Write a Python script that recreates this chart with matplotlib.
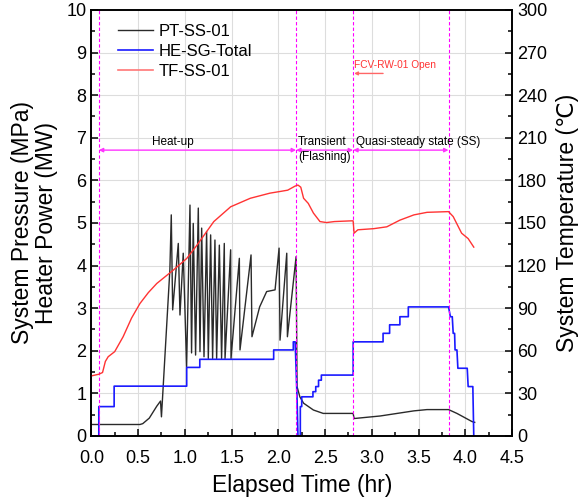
import matplotlib
matplotlib.use('Agg')
import matplotlib.pyplot as plt
from matplotlib.ticker import MultipleLocator

plt.rcParams['font.family'] = ['Liberation Sans', 'DejaVu Sans']

# PT-SS-01 system pressure (MPa)
pt_t = [0.0, 0.52, 0.55, 0.62, 0.70, 0.74, 0.75, 0.84, 0.855, 0.87, 0.93, 0.948, 0.983, 1.019,
        1.055, 1.072, 1.09, 1.115, 1.144, 1.162, 1.18, 1.205, 1.233, 1.251, 1.276, 1.297,
        1.322, 1.34, 1.369, 1.393, 1.422, 1.43, 1.49, 1.494, 1.583, 1.59, 1.708, 1.718,
        1.80, 1.875, 1.965, 2.008, 2.018, 2.09, 2.097, 2.19, 2.20, 2.23, 2.27, 2.375, 2.48,
        2.80, 2.81, 3.09, 3.45, 3.59, 3.82, 3.91, 4.07, 4.10]
pt_v = [0.27, 0.27, 0.29, 0.42, 0.70, 0.82, 0.45, 3.90, 5.19, 2.96, 4.52, 2.84, 4.29, 1.63,
        5.42, 1.95, 4.99, 1.90, 5.35, 1.98, 4.88, 1.86, 4.80, 1.82, 4.72, 1.82,
        4.60, 1.82, 4.48, 1.82, 4.52, 1.82, 4.37, 1.82, 4.17, 2.02, 4.25, 2.33,
        3.03, 3.39, 3.43, 4.41, 2.25, 4.29, 2.33, 4.21, 1.16, 0.92, 0.77, 0.61, 0.53,
        0.53, 0.41, 0.47, 0.59, 0.62, 0.62, 0.53, 0.34, 0.32]

# HE-SG-Total heater power (MW)
he_t = [0.0, 0.08, 0.08, 0.244, 0.244, 1.02, 1.02, 1.16, 1.16, 1.95, 1.95, 2.16, 2.16,
        2.18, 2.20, 2.21, 2.235, 2.235, 2.25, 2.25, 2.37, 2.37, 2.40, 2.40, 2.43, 2.43,
        2.46, 2.46, 2.80, 2.80, 3.12, 3.12, 3.19, 3.19, 3.30, 3.30, 3.39, 3.39, 3.82,
        3.84, 3.86, 3.87, 3.885, 3.89, 3.91, 3.92, 4.02, 4.03, 4.08, 4.09]
he_v = [0.0, 0.0, 0.69, 0.69, 1.17, 1.17, 1.61, 1.61, 1.80, 1.80, 2.02, 2.02, 2.21,
        2.21, 0.90, 0.0, 0.0, 0.69, 0.69, 0.92, 0.92, 1.04, 1.04, 1.16, 1.16, 1.31,
        1.31, 1.43, 1.43, 2.21, 2.21, 2.41, 2.41, 2.61, 2.61, 2.80, 2.80, 3.03, 3.03,
        2.80, 2.80, 2.41, 2.41, 2.02, 2.02, 1.59, 1.59, 1.16, 1.16, 0.0]

# TF-SS-01 system temperature (C)
tf_t = [0.0, 0.08, 0.12, 0.15, 0.18, 0.25, 0.34, 0.43, 0.52, 0.61, 0.70, 0.88, 1.02, 1.13,
        1.31, 1.49, 1.70, 1.91, 2.02, 2.10, 2.18, 2.21, 2.24, 2.27, 2.32, 2.375, 2.445,
        2.515, 2.60, 2.78, 2.80, 2.81, 2.85, 3.02, 3.16, 3.30, 3.45, 3.59, 3.82, 3.87,
        3.96, 4.03, 4.09]
tf_v = [42.3, 43.5, 44.7, 52.5, 55.8, 59.4, 69.9, 83.0, 93.3, 101.0, 107.4, 117.0, 125.0,
        134.4, 151.0, 161.4, 167.4, 171.0, 172.2, 173.1, 176.0, 176.7, 175.2, 167.4, 163.8,
        157.0, 151.0, 150.3, 151.0, 151.5, 151.5, 142.8, 145.2, 146.0, 147.3, 152.0, 155.7,
        157.5, 158.0, 154.5, 142.8, 139.0, 133.0]

phase_lines = [0.08, 2.19, 2.80, 3.82]

fig = plt.figure(figsize=(5.78, 4.98), dpi=100)
ax = fig.add_axes([0.158, 0.1245, 0.728, 0.8555])
ax2 = ax.twinx()

ax.plot(pt_t, pt_v, color='#2a2a2a', lw=1.0, label='PT-SS-01')
ax.plot(he_t, he_v, color='#1a1aff', lw=1.2, label='HE-SG-Total')
ax2.plot(tf_t, tf_v, color='#ff3333', lw=1.0)
ax.plot([], [], color='#ff7777', lw=1.2, label='TF-SS-01')

for x in phase_lines:
    ax.axvline(x, color='#ff00ff', lw=0.8, ls=(0, (3, 2)))

arr_y = 6.71
for a, b in zip(phase_lines[:-1], phase_lines[1:]):
    ax.annotate('', xy=(a, arr_y), xytext=(b, arr_y),
                arrowprops=dict(arrowstyle='<|-|>', color='#ff33ff', lw=1.0,
                                mutation_scale=6, shrinkA=0, shrinkB=0))
ax.text(0.87, 6.89, 'Heat-up', fontsize=8.5, ha='center', va='center')
ax.text(2.21, 6.89, 'Transient', fontsize=8.5, ha='left', va='center')
ax.text(2.21, 6.56, '(Flashing)', fontsize=8.5, ha='left', va='center')
ax.text(2.83, 6.89, 'Quasi-steady state (SS)', fontsize=8.5, ha='left', va='center')

ax.text(2.81, 8.71, 'FCV-RW-01 Open', fontsize=7.3, color='#ff3333', ha='left', va='center')
ax.annotate('', xy=(2.81, 8.51), xytext=(3.12, 8.51),
            arrowprops=dict(arrowstyle='-|>', color='#ff6666', lw=1.0,
                            mutation_scale=5, shrinkA=0, shrinkB=0))

ax.set_xlim(0, 4.5)
ax.set_ylim(0, 10)
ax2.set_ylim(0, 300)
ax.xaxis.set_major_locator(MultipleLocator(0.5))
ax.xaxis.set_minor_locator(MultipleLocator(0.25))
ax.yaxis.set_major_locator(MultipleLocator(1))
ax.yaxis.set_minor_locator(MultipleLocator(0.5))
ax2.yaxis.set_major_locator(MultipleLocator(30))
ax2.yaxis.set_minor_locator(MultipleLocator(15))
ax.xaxis.set_major_formatter(plt.FormatStrFormatter('%.1f'))

ax.grid(True, color='#dddddd', lw=0.8)
ax.set_axisbelow(True)
for a in (ax, ax2):
    a.tick_params(which='both', direction='in', labelsize=13, width=1.1)
    a.tick_params(which='major', length=5)
    a.tick_params(which='minor', length=3)
    for s in a.spines.values():
        s.set_linewidth(1.2)
ax.tick_params(top=False, right=False)
ax.tick_params(axis='x', which='both', top=False, pad=10)

ax.set_xlabel('Elapsed Time (hr)', fontsize=16.5, labelpad=5)
ax.set_ylabel('System Pressure (MPa)\nHeater Power (MW)', fontsize=16.5, labelpad=6,
              linespacing=1.05)
ax2.set_ylabel('System Temperature (\u2103)', fontsize=16.5, labelpad=6)

ax.legend(loc='upper left', bbox_to_anchor=(0.04, 0.99), frameon=False, fontsize=12,
          handlelength=2.1, labelspacing=0.28, handletextpad=0.35, borderaxespad=0.2)

fig.savefig('out.png', dpi=100)
